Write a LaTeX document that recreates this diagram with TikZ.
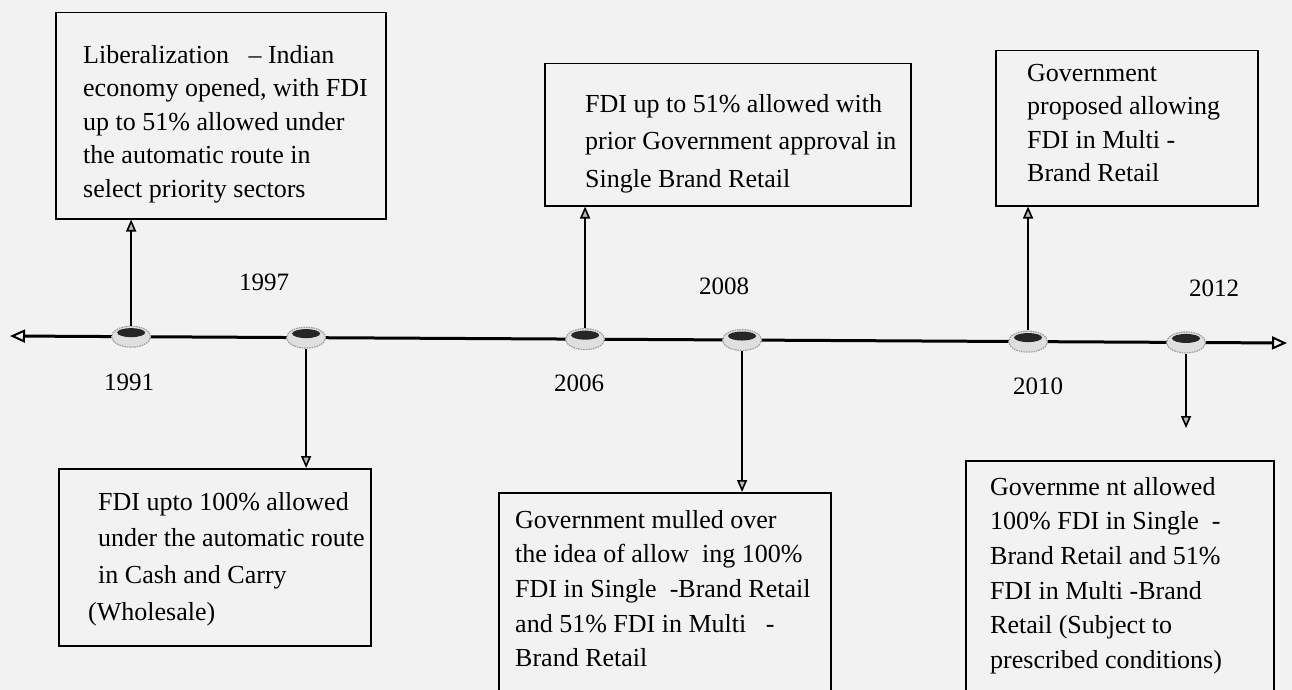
\documentclass[tikz,border=0pt]{standalone}
\usepackage{fontspec}
\setmainfont{Liberation Serif}
\usetikzlibrary{arrows.meta,calc,shapes.geometric}
\definecolor{bgc}{RGB}{242,242,242}
\begin{document}
\begin{tikzpicture}[x=1pt,y=-1pt,
  boxst/.style={draw=black, line width=1.5pt, rectangle, inner sep=0pt, anchor=north west},
  txt/.style={anchor=north west, inner sep=0pt, align=left, font=\fontsize{26}{33.5}\selectfont},
  txtc/.style={txt, font=\fontsize{26}{37.5}\selectfont},
  txtd/.style={txt, font=\fontsize{26}{36.7}\selectfont},
  txte/.style={txt, font=\fontsize{26}{34.6}\selectfont},
  yr/.style={font=\fontsize{25}{30}\selectfont, inner sep=0pt},
  conn/.style={line width=1.6pt, -{Triangle[width=10pt,length=12pt,fill=gray!55]}},
  marker/.style={ellipse, minimum width=39pt, minimum height=21pt, inner sep=0pt,
    fill=gray!25, draw=gray!75, line width=1.2pt, dash pattern=on 1.6pt off 0.9pt,
    path picture={\fill[black!85] ([yshift=4pt]path picture bounding box.center)
      ellipse [x radius=14pt, y radius=4.5pt];}},
]
\fill[bgc] (0,0) rectangle (1292,690);
\useasboundingbox (0,0) rectangle (1292,690);

% timeline
\coordinate (tl) at (10,336);
\coordinate (tr) at (1287,343);
\draw[line width=3pt, {Triangle[open,width=13pt,length=15pt,line width=2pt]}-{Triangle[open,width=13pt,length=15pt,line width=2pt]}] (tl) -- (tr);

% markers
\node[marker] (m1991) at ($(tl)!(133,0)!(tr)$) {};
\node[marker] (m1997) at ($(tl)!(308,0)!(tr)$) {};
\node[marker] (m2006) at ($(tl)!(587,0)!(tr)$) {};
\node[marker] (m2008) at ($(tl)!(744,0)!(tr)$) {};
\node[marker] (m2010) at ($(tl)!(1030,0)!(tr)$) {};
\node[marker] (m2012) at ($(tl)!(1188,0)!(tr)$) {};

% years
\node[yr] (y1991) at (129,382) {1991};
\node[yr] (y1997) at (264,282) {1997};
\node[yr] (y2006) at (579,383) {2006};
\node[yr] (y2008) at (724,286) {2008};
\node[yr] (y2012) at (1214,288) {2012};
\node[yr] (y2010) at (1038,386) {2010};

% boxes (top)
\node[boxst, minimum width=330pt, minimum height=206pt] (b1) at (55,12) {};
\node[txt] (t1) at (83,45) {Liberalization\ \ \ -- Indian\\economy opened, with FDI\\up to 51\% allowed under\\the automatic route in\\select priority sectors};

\node[boxst, minimum width=366pt, minimum height=142pt] (b3) at (544,63) {};
\node[txtc] (t3) at (585,94) {FDI up to 51\% allowed with\\prior Government approval in\\Single Brand Retail};

\node[boxst, minimum width=262pt, minimum height=155pt] (b5) at (995,50) {};
\node[txt] (t5) at (1027,64) {Government\\proposed allowing\\FDI in Multi -\\Brand Retail};

% boxes (bottom)
\node[boxst, minimum width=312pt, minimum height=177pt] (b2) at (58,468) {};
\node[txtd] (t2) at (98,492) {FDI upto 100\% allowed\\under the automatic route\\in Cash and Carry\\\hspace*{-10pt}(Wholesale)};

\node[boxst, minimum width=332pt, minimum height=220pt] (b4) at (498,492) {};
\node[txte] (t4) at (515,510) {Government mulled over\\the idea of allow\ \ ing 100\%\\FDI in Single\ \ -Brand Retail\\and 51\% FDI in Multi\ \ \ -\\Brand Retail};

\node[boxst, minimum width=308pt, minimum height=250pt] (b6) at (965,460) {};
\node[txte] (t6) at (990,477) {Governme nt allowed\\100\% FDI in Single\ \ -\\Brand Retail and 51\%\\FDI in Multi -Brand\\Retail (Subject to\\prescribed conditions)};

% connectors
\coordinate (e2012) at (1190,428);
\draw[conn] (m1991.north) -- (m1991.north |- b1.south);
\draw[conn] (m1997.south) -- (m1997.south |- b2.north);
\draw[conn] (m2006.north) -- (m2006.north |- b3.south);
\draw[conn] (m2008.south) -- (m2008.south |- b4.north);
\draw[conn] (m2010.north) -- (m2010.north |- b5.south);
\draw[conn] (m2012.south) -- (m2012.south |- e2012);
\end{tikzpicture}
\end{document}
